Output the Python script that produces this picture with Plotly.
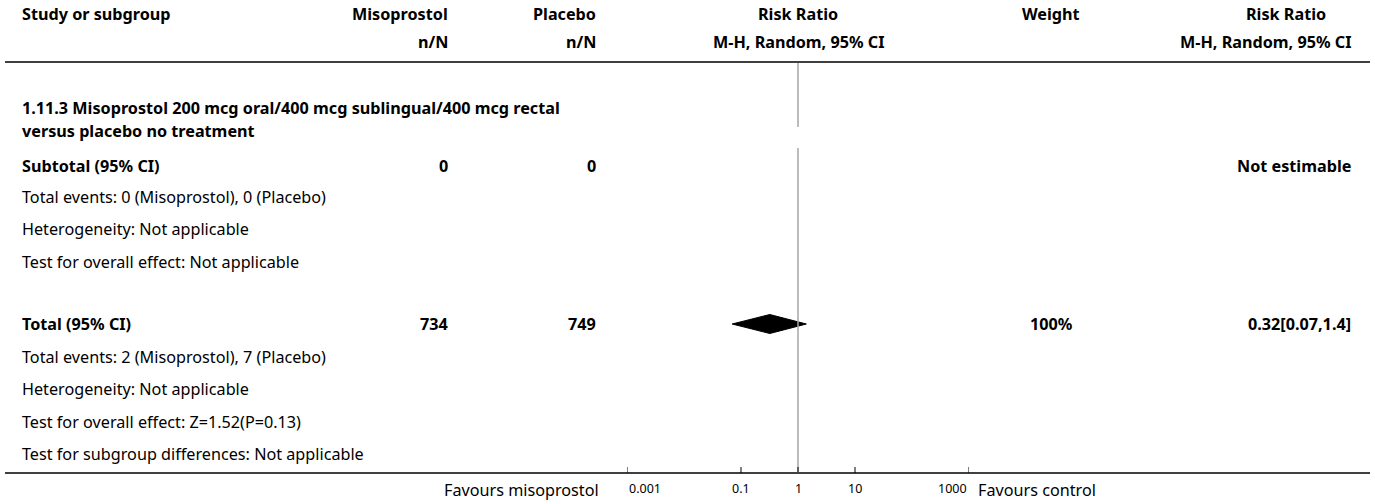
import numpy as np
import plotly.graph_objects as go

W, H = 1375, 504
FONT = "Noto Sans"
FS = 16.2

# ---- data ----
group_heading = ["1.11.3 Misoprostol 200 mcg oral/400 mcg sublingual/400 mcg rectal",
                 "versus placebo no treatment"]
subtotal_n = ["0", "0"]
subtotal_effect = "Not estimable"
subtotal_notes = [
    "Total events: 0 (Misoprostol), 0 (Placebo)",
    "Heterogeneity: Not applicable",
    "Test for overall effect: Not applicable",
]
total_n = ["734", "749"]
total_weight = "100%"
total_rr = 0.32
total_lo = 0.07
total_hi = 1.4
total_notes = [
    "Total events: 2 (Misoprostol), 7 (Placebo)",
    "Heterogeneity: Not applicable",
    "Test for overall effect: Z=1.52(P=0.13)",
    "Test for subgroup differences: Not applicable",
]
tick_values = [0.001, 0.1, 1, 10, 1000]
tick_labels = ["0.001", "0.1", "1", "10", "1000"]
favours_left = "Favours misoprostol"
favours_right = "Favours control"

# ---- layout positions (pixels) ----
X_LEFT = 20
X_MISO = 450
X_PLAC = 598
X_FOREST = 798
X_WEIGHT = 1051
X_RR = 1353
PLOT_L, PLOT_R = 627, 969

Y_HEAD1, Y_HEAD2, Y_RULE_TOP = 14, 42, 62
Y_GROUP = [108, 131]
Y_SUB = 166
Y_SUB_NOTES = [197, 229, 262]
Y_TOT = 324
Y_TOT_NOTES = [357, 389, 422, 454]
Y_AXIS = 473
Y_TICKLAB = 488

def px(x):
    return x / W

lx = np.log10(tick_values)

fig = go.Figure()

annotations = []

def txt(x, y, s, anchor="left", bold=False, xref="paper", size=FS):
    annotations.append(dict(
        x=x, y=y, xref=xref, yref="y", text=f"<b>{s}</b>" if bold else s,
        showarrow=False, xanchor=anchor, yanchor="middle", align=anchor,
        font=dict(family=FONT, size=size, color="#000"),
    ))

# header
txt(px(X_LEFT), Y_HEAD1, "Study or subgroup", bold=True)
txt(px(X_MISO), Y_HEAD1, "Misoprostol", "right", True)
txt(px(X_MISO), Y_HEAD2, "n/N", "right", True)
txt(px(X_PLAC), Y_HEAD1, "Placebo", "right", True)
txt(px(X_PLAC), Y_HEAD2, "n/N", "right", True)
txt(px(X_FOREST), Y_HEAD1, "Risk Ratio", "center", True)
txt(px(X_FOREST), Y_HEAD2, "M-H, Random, 95% CI", "center", True)
txt(px(X_WEIGHT), Y_HEAD1, "Weight", "center", True)
txt(px(1286), Y_HEAD1, "Risk Ratio", "center", True)
txt(px(X_RR), Y_HEAD2, "M-H, Random, 95% CI", "right", True)

# subgroup
for y, s in zip(Y_GROUP, group_heading):
    txt(px(X_LEFT), y, s, bold=True)
txt(px(X_LEFT), Y_SUB, "Subtotal (95% CI)", bold=True)
txt(px(X_MISO), Y_SUB, subtotal_n[0], "right", True)
txt(px(X_PLAC), Y_SUB, subtotal_n[1], "right", True)
txt(px(X_RR), Y_SUB, subtotal_effect, "right", True)
for y, s in zip(Y_SUB_NOTES, subtotal_notes):
    txt(px(X_LEFT), y, s)

# overall total
txt(px(X_LEFT), Y_TOT, "Total (95% CI)", bold=True)
txt(px(X_MISO), Y_TOT, total_n[0], "right", True)
txt(px(X_PLAC), Y_TOT, total_n[1], "right", True)
txt(px(X_WEIGHT), Y_TOT, total_weight, "center", True)
txt(px(X_RR), Y_TOT, f"{total_rr:g}[{total_lo:g},{total_hi:g}]", "right", True)
for y, s in zip(Y_TOT_NOTES, total_notes):
    txt(px(X_LEFT), y, s)

# diamond for the pooled estimate
dh = 9.5
fig.add_trace(go.Scatter(
    x=np.log10([total_lo, total_rr, total_hi, total_rr, total_lo]),
    y=[Y_TOT, Y_TOT - dh, Y_TOT, Y_TOT + dh, Y_TOT],
    mode="lines", fill="toself", fillcolor="#000",
    line=dict(color="#000", width=1), hoverinfo="skip", showlegend=False,
))

shapes = []
# rules
shapes.append(dict(type="line", xref="paper", yref="y", x0=px(5), x1=px(1370),
                   y0=Y_RULE_TOP, y1=Y_RULE_TOP, line=dict(color="#000", width=1.5)))
shapes.append(dict(type="line", xref="paper", yref="y", x0=px(5), x1=px(1370),
                   y0=Y_AXIS, y1=Y_AXIS, line=dict(color="#000", width=1.5)))
# line of no effect
for y0, y1 in [(Y_RULE_TOP + 1, 127), (148, Y_AXIS)]:
    shapes.append(dict(type="line", xref="x", yref="y", x0=0, x1=0, y0=y0, y1=y1,
                       line=dict(color="#a6a6a6", width=1.5)))
# axis ticks and labels
for v, lab in zip(lx, tick_labels):
    shapes.append(dict(type="line", xref="x", yref="y", x0=v, x1=v,
                       y0=Y_AXIS - 6, y1=Y_AXIS, line=dict(color="#000", width=1)))
for i, (v, lab) in enumerate(zip(lx, tick_labels)):
    anchor = "left" if i == 0 else ("right" if i == len(lx) - 1 else "center")
    txt(v, Y_TICKLAB, lab, anchor, xref="x", size=12.5)

txt(px(601), Y_TICKLAB + 2, favours_left, "right")
txt(px(976), Y_TICKLAB + 2, favours_right, "left")

fig.update_layout(
    width=W, height=H, margin=dict(l=0, r=0, t=0, b=0),
    paper_bgcolor="#fff", plot_bgcolor="#fff",
    xaxis=dict(domain=[PLOT_L / W, PLOT_R / W], range=[lx[0], lx[-1]],
               visible=False, fixedrange=True),
    yaxis=dict(domain=[0, 1], range=[H, 0], visible=False, fixedrange=True),
    annotations=annotations, shapes=shapes, showlegend=False,
)

fig.write_html("out.html", config={"displayModeBar": False})
